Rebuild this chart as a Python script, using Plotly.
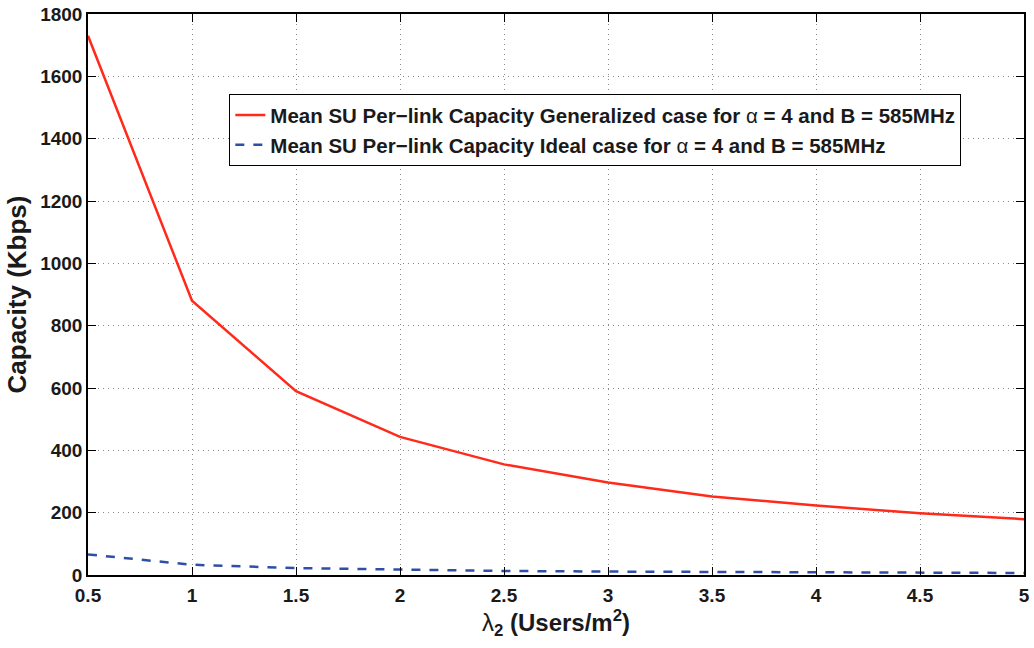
import plotly.graph_objects as go

x_vals = [0.5, 1, 1.5, 2, 2.5, 3, 3.5, 4, 4.5, 5]
generalized = [1730, 880, 590, 443, 355, 297, 252, 223, 198, 179]
ideal = [66, 33, 22, 17, 13, 11, 9.5, 8, 7.5, 6.5]

x_ticks = [0.5, 1, 1.5, 2, 2.5, 3, 3.5, 4, 4.5, 5]
x_tick_labels = ["0.5", "1", "1.5", "2", "2.5", "3", "3.5", "4", "4.5", "5"]
y_ticks = [0, 200, 400, 600, 800, 1000, 1200, 1400, 1600, 1800]

FONT = "Liberation Sans, Arial, sans-serif"

name_gen = "<b>Mean SU Per\u2212link Capacity Generalized case for </b>\u03b1<b> = 4 and B = 585MHz</b>"
name_ideal = "<b>Mean SU Per\u2212link Capacity Ideal case for </b>\u03b1<b> = 4 and B = 585MHz</b>"

fig = go.Figure()
fig.add_trace(go.Scatter(x=x_vals, y=generalized, mode="lines", name=name_gen,
                         line=dict(color="#ff2a1a", width=2.5)))
fig.add_trace(go.Scatter(x=x_vals, y=ideal, mode="lines", name=name_ideal,
                         line=dict(color="#2e4fa8", width=2.5, dash="dash")))

axis_common = dict(
    showline=True, linecolor="black", linewidth=1.5, mirror="ticks",
    ticks="inside", ticklen=8, tickcolor="black", tickwidth=1,
    showgrid=True, gridcolor="#8a8a8a", griddash="1px,4px", gridwidth=1,
    zeroline=False,
    tickfont=dict(family=FONT, size=19, color="#1a1a1a"),
)

fig.update_xaxes(range=[0.5, 5], tickvals=x_ticks, ticktext=["<b>%s</b>" % t for t in x_tick_labels],
                 ticklabelstandoff=2,
                 title=dict(text="\u03bb<b><sub>2</sub> (Users/m<sup>2</sup>)</b>",
                            font=dict(family=FONT, size=24, color="#1a1a1a"),
                            standoff=3),
                 **axis_common)
fig.update_yaxes(range=[0, 1800], tickvals=y_ticks, ticktext=["<b>%d</b>" % v for v in y_ticks],
                 title=dict(text="<b>Capacity (Kbps)</b>",
                            font=dict(family=FONT, size=26, color="#1a1a1a"),
                            standoff=6),
                 **axis_common)

fig.update_layout(
    width=1034, height=648,
    margin=dict(l=88, r=4, t=11, b=73),
    plot_bgcolor="white", paper_bgcolor="white",
    font=dict(family=FONT, color="#1a1a1a"),
    legend=dict(x=0.151, y=0.857, xanchor="left", yanchor="top",
                bgcolor="white", bordercolor="black", borderwidth=1,
                font=dict(size=20.5, family=FONT, color="#1a1a1a"),
                tracegroupgap=0),
    showlegend=True,
)

fig.write_html("out.html")
